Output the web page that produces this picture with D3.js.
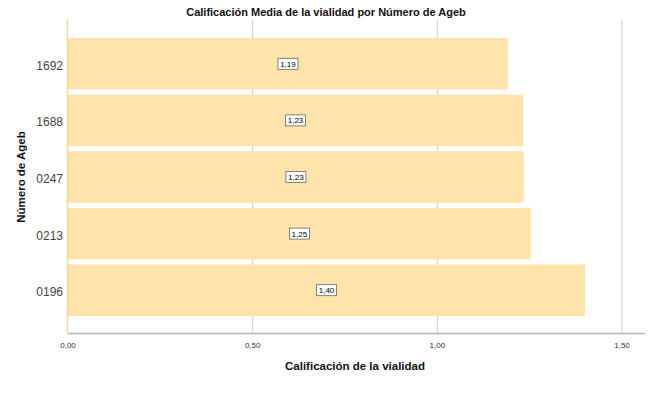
<!DOCTYPE html>
<html><head><meta charset="utf-8">
<script src="https://cdn.jsdelivr.net/npm/d3@7"></script>
<style>body{margin:0;background:#fff}svg{display:block;font-family:"Liberation Sans",Arial,sans-serif}</style>
</head><body>
<script>
const categories = ["1692", "1688", "0247", "0213", "0196"];
const values = [1.191, 1.232, 1.234, 1.253, 1.400];
const xTicks = [0, 0.5, 1.0, 1.5];
const title = "Calificación Media de la vialidad por Número de Ageb";
const xTitle = "Calificación de la vialidad";
const yTitle = "Número de Ageb";

const W = 650, H = 402;
const svg = d3.select("body").append("svg").attr("width", W).attr("height", H);
const x = d3.scaleLinear().domain([0, 1.5]).range([68, 622]);
const y = d3.scaleBand().domain(categories).range([35.5, 318.5]).paddingInner(0.088).paddingOuter(0.044);
const fmt = v => d3.format(".2f")(v).replace(".", ",");

// gridlines
svg.append("g").selectAll("line").data(xTicks.slice(1)).join("line")
  .attr("x1", d => x(d)).attr("x2", d => x(d)).attr("y1", 20).attr("y2", 333)
  .attr("stroke", "#cfcfcf").attr("stroke-width", 1);

// bars
svg.append("g").selectAll("rect").data(categories).join("rect")
  .attr("x", x(0)).attr("y", d => y(d)).attr("height", y.bandwidth())
  .attr("width", (d, i) => x(values[i]) - x(0))
  .attr("fill", "#fee3aa");

// left axis line
svg.append("line").attr("x1", 67.5).attr("x2", 67.5).attr("y1", 20).attr("y2", 333.5)
  .attr("stroke", "#f7d898").attr("stroke-width", 1.5);
// bottom axis line
svg.append("line").attr("x1", 68).attr("x2", 645).attr("y1", 333.5).attr("y2", 333.5)
  .attr("stroke", "#b5b5b5").attr("stroke-width", 1.5);

// y tick labels
svg.append("g").selectAll("text").data(categories).join("text")
  .attr("x", 63).attr("y", d => y(d) + y.bandwidth() / 2 + 6)
  .attr("text-anchor", "end").attr("font-size", 12).attr("fill", "#444").text(d => d);

// x tick labels
svg.append("g").selectAll("text").data(xTicks).join("text")
  .attr("x", d => x(d)).attr("y", 348)
  .attr("text-anchor", "middle").attr("font-size", 8).attr("fill", "#333").text(fmt);

// value labels
const lab = svg.append("g").selectAll("g").data(categories).join("g")
  .attr("transform", (d, i) => `translate(${(x(0) + x(values[i])) / 2},${y(d) + y.bandwidth() / 2})`);
lab.append("rect").attr("x", -10).attr("y", -5.5).attr("width", 20).attr("height", 11)
  .attr("fill", "#fff").attr("stroke", "#666").attr("stroke-width", 0.8);
lab.append("text").attr("y", 3).attr("text-anchor", "middle").attr("font-size", 8).attr("fill", "#000")
  .text((d, i) => fmt(values[i]));

// titles
svg.append("text").attr("x", 326).attr("y", 16).attr("text-anchor", "middle")
  .attr("font-size", 11).attr("font-weight", "bold").attr("fill", "#111").text(title);
svg.append("text").attr("x", 355).attr("y", 370).attr("text-anchor", "middle")
  .attr("font-size", 11.5).attr("font-weight", "bold").attr("fill", "#111").text(xTitle);
svg.append("text").attr("transform", "translate(25,177) rotate(-90)").attr("text-anchor", "middle")
  .attr("font-size", 11.5).attr("font-weight", "bold").attr("fill", "#111").text(yTitle);
</script>
</body></html>
